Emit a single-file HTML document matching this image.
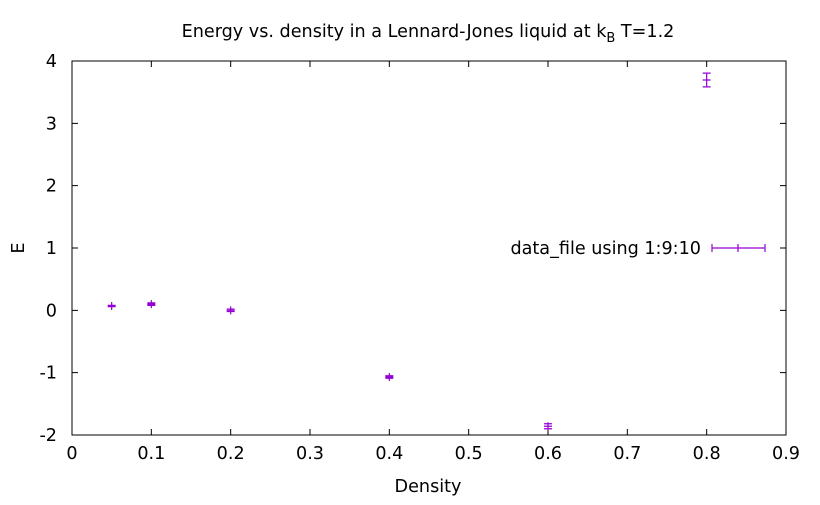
<!DOCTYPE html>
<html><head><meta charset="utf-8"><style>
body{margin:0;background:#fff}
svg text{font-family:"DejaVu Sans","Liberation Sans",sans-serif;font-size:17.6px;fill:#000}
</style></head><body>
<svg id="chart" width="820" height="500">
<text x="428" y="37" text-anchor="middle">Energy vs. density in a Lennard-Jones liquid at k<tspan font-size="13" dy="5">B</tspan><tspan dy="-5"> T=1.2</tspan></text>
<g id="axes"></g>
<g id="marks"></g>
<text x="428" y="492" text-anchor="middle">Density</text>
<text x="24" y="248" text-anchor="middle" transform="rotate(-90 24 248)">E</text>
<g>
<text x="701" y="254" text-anchor="end">data_file using 1:9:10</text>
<path d="M712 248H765M712 244V252M765 244V252M738 244V252" stroke="#9400d3" stroke-width="1.2" fill="none"/>
</g>
</svg>
<script>
const xVals=[0.05,0.1,0.2,0.4,0.6,0.8];
const yVals=[0.07,0.10,0.0,-1.07,-1.86,3.695];
const yErr=[0.01,0.02,0.02,0.02,0.04,0.11];
const xTicks=[0,0.1,0.2,0.3,0.4,0.5,0.6,0.7,0.8,0.9];
const yTicks=[-2,-1,0,1,2,3,4];
const X0=72,X1=786,Y0=435,Y1=61;
const sx=v=>X0+(v-0)/0.9*(X1-X0);
const sy=v=>Y0-(v+2)/6*(Y0-Y1);
const NS="http://www.w3.org/2000/svg";
const ax=document.getElementById('axes'),mk=document.getElementById('marks');
function el(t,a,p){const e=document.createElementNS(NS,t);for(const k in a)e.setAttribute(k,a[k]);p.appendChild(e);return e;}
const frame=el('rect',{x:X0,y:Y1,width:X1-X0,height:Y0-Y1,fill:'none',stroke:'#000','stroke-width':1},ax);


xTicks.forEach(v=>{const x=sx(v);
el('path',{d:`M${x} ${Y0}v-6M${x} ${Y1}v6`,stroke:'#000','stroke-width':1},ax);
const t=el('text',{x:x,y:Y0+24,'text-anchor':'middle'},ax);t.textContent=String(v);

});
yTicks.forEach(v=>{const y=sy(v);
el('path',{d:`M${X0} ${y}h6M${X1} ${y}h-6`,stroke:'#000','stroke-width':1},ax);
const t=el('text',{x:X0-15,y:y+6,'text-anchor':'end'},ax);t.textContent=String(v);

});
xVals.forEach((xv,i)=>{const x=sx(xv),y=sy(yVals[i]),lo=sy(yVals[i]-yErr[i]),hi=sy(yVals[i]+yErr[i]);
const p=el('path',{d:`M${x} ${lo}V${hi}M${x-4} ${lo}h8M${x-4} ${hi}h8M${x-4} ${y}h8M${x} ${y-4}v8`,stroke:'#9400d3','stroke-width':1.2,fill:'none'},mk);

});
</script>
</body></html>
